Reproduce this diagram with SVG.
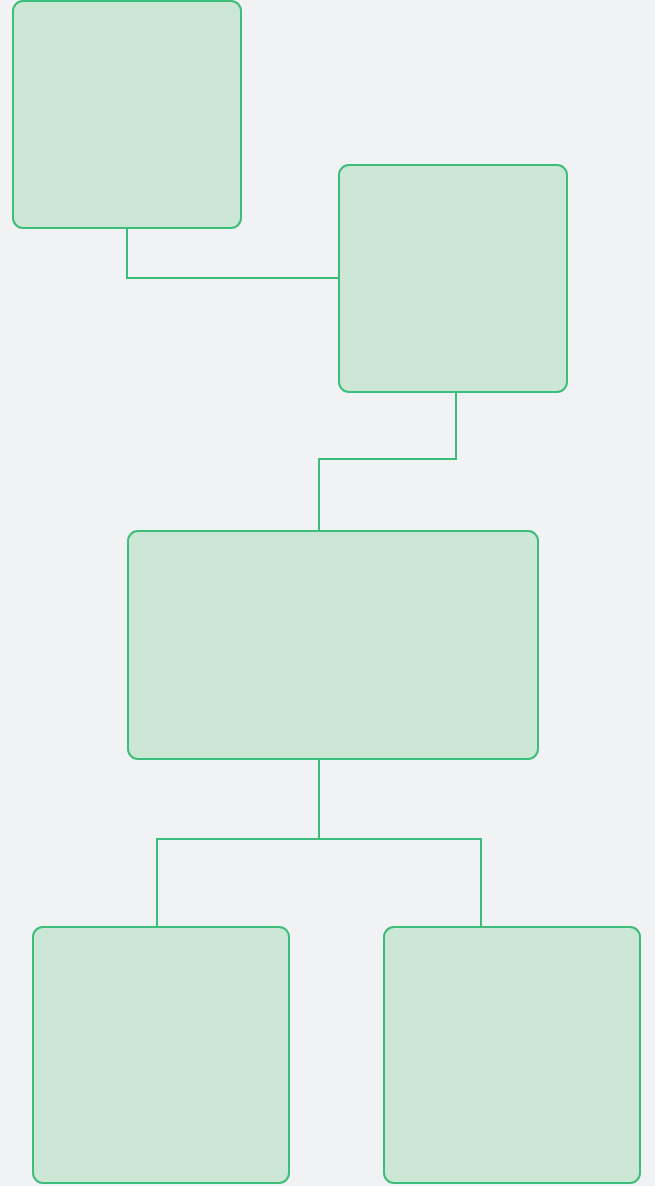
<svg xmlns="http://www.w3.org/2000/svg" width="655" height="1186" viewBox="0 0 655 1186">
<style>
.node{fill:#cde7d6;stroke:#3dbd7a;stroke-width:2}
.edge{fill:none;stroke:#3dbd7a;stroke-width:2}
</style>
<rect x="0" y="0" width="655" height="1186" fill="#f1f2f4"/>
<g id="connectors">
<path class="edge" d="M127 228 V278 H339"/>
<path class="edge" d="M456 392 V459 H319 V531"/>
<path class="edge" d="M319 759 V839"/>
<path class="edge" d="M157 927 V839 H481 V927"/>
</g>
<g id="node1"><rect class="node" x="13" y="1" width="228" height="227" rx="10"/></g>
<g id="node2"><rect class="node" x="339" y="165" width="228" height="227" rx="10"/></g>
<g id="node3"><rect class="node" x="128" y="531" width="410" height="228" rx="10"/></g>
<g id="node4"><rect class="node" x="33" y="927" width="256" height="256" rx="10"/></g>
<g id="node5"><rect class="node" x="384" y="927" width="256" height="256" rx="10"/></g>
</svg>
